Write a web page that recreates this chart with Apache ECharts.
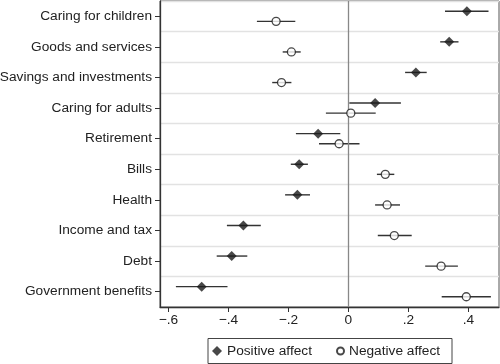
<!DOCTYPE html>
<html><head><meta charset="utf-8">
<script src="https://cdn.jsdelivr.net/npm/echarts@6/dist/echarts.min.js"></script>
<style>html,body{margin:0;padding:0;background:#fff}#c{width:500px;height:364px}</style>
</head><body><div id="c"></div>
<script>
const categories = ["Caring for children","Goods and services","Savings and investments","Caring for adults","Retirement","Bills","Health","Income and tax","Debt","Government benefits"];
const posEst  = [0.395, 0.336, 0.225, 0.089, -0.101, -0.164, -0.170, -0.350, -0.389, -0.489];
const posLow  = [0.322, 0.306, 0.189, 0.003, -0.175, -0.192, -0.211, -0.405, -0.439, -0.575];
const posHigh = [0.467, 0.367, 0.261, 0.175, -0.027, -0.135, -0.128, -0.292, -0.337, -0.403];
const negEst  = [-0.241, -0.190, -0.223, 0.008, -0.031, 0.123, 0.129, 0.153, 0.309, 0.393];
const negLow  = [-0.305, -0.219, -0.254, -0.075, -0.098, 0.095, 0.089, 0.098, 0.256, 0.311];
const negHigh = [-0.177, -0.159, -0.190, 0.091, 0.037, 0.153, 0.172, 0.211, 0.365, 0.475];
const xTicks = [-0.6, -0.4, -0.2, 0, 0.2, 0.4];

const OFF = 0.165;
const FONT = "'Liberation Sans', Arial, Helvetica, sans-serif";
const FS = 13.7;
const posPts = posEst.map((v,i)=>[v, i-OFF]);
const negPts = negEst.map((v,i)=>[v, i+OFF]);
const posCI = posLow.map((v,i)=>[v, posHigh[i], i-OFF]);
const negCI = negLow.map((v,i)=>[v, negHigh[i], i+OFF]);

function ciRender(params, api){
  const a = api.coord([api.value(0), api.value(2)]);
  const b = api.coord([api.value(1), api.value(2)]);
  return {type:'line', shape:{x1:a[0],y1:a[1],x2:b[0],y2:b[1]}, style:{stroke:'#333', lineWidth:1.4}};
}
function fmt(v){
  if (Math.abs(v) < 1e-9) return '0';
  let s = Math.abs(v).toFixed(1).replace(/^0/, '');
  return (v<0 ? '\u2212' : '') + s;
}

const chart = echarts.init(document.getElementById('c'), null, {renderer:'canvas'});
chart.setOption({
  animation:false,
  textStyle:{fontFamily:FONT},
  grid:{left:160, right:1, top:1, bottom:57, containLabel:false, outerBoundsMode:'none', show:true, borderColor:'#555', borderWidth:1},
  xAxis:{type:'value', min:-0.628, max:0.502, interval:0.2,
    axisLine:{show:true, onZero:false, lineStyle:{color:'#333', width:1.3}},
    axisTick:{show:true, length:5, lineStyle:{color:'#333'}, customValues:xTicks},
    axisLabel:{color:'#222', fontSize:FS, fontFamily:FONT, margin:6, customValues:xTicks, formatter:fmt},
    splitLine:{show:false}},
  yAxis:[
    {type:'category', data:categories, inverse:true, boundaryGap:true,
     axisLine:{show:true, onZero:false, lineStyle:{color:'#333', width:1.3}},
     axisTick:{show:true, alignWithLabel:true, length:5, lineStyle:{color:'#333'}},
     axisLabel:{color:'#222', fontSize:FS, fontFamily:FONT, margin:8},
     splitLine:{show:true, interval:0, lineStyle:{color:'#e2e2e2', width:1.3}}},
    {type:'value', min:-0.5, max:9.5, inverse:true, show:false}
  ],
  graphic:[{type:'rect', shape:{x:208, y:338.5, width:244, height:25}, style:{fill:'none', stroke:'#444', lineWidth:1}, silent:true}],
  legend:[
    {left:212, top:344, itemWidth:10, itemHeight:10, padding:0,
     textStyle:{fontSize:FS, color:'#222', fontFamily:FONT}, data:['Positive affect']},
    {left:336, top:344, itemWidth:7, itemHeight:7, padding:0,
     textStyle:{fontSize:FS, color:'#222', fontFamily:FONT}, data:['Negative affect']}
  ],
  series:[
    {name:'Positive affect CI', type:'custom', yAxisIndex:1, renderItem:ciRender, data:posCI, encode:{x:[0,1], y:2}, z:2},
    {name:'Negative affect CI', type:'custom', yAxisIndex:1, renderItem:ciRender, data:negCI, encode:{x:[0,1], y:2}, z:2},
    {name:'Positive affect', type:'scatter', yAxisIndex:1, data:posPts, symbol:'diamond', symbolSize:[10,10],
     itemStyle:{color:'#1a1a1a'}, z:5,
     markLine:{silent:true, symbol:'none', label:{show:false}, lineStyle:{color:'#888', type:'solid', width:1.3}, data:[{xAxis:0}]}},
    {name:'Negative affect', type:'scatter', yAxisIndex:1, data:negPts, symbol:'circle', symbolSize:8,
     itemStyle:{color:'#fff', borderColor:'#1a1a1a', borderWidth:1.3}, z:5}
  ]
});
</script></body></html>
